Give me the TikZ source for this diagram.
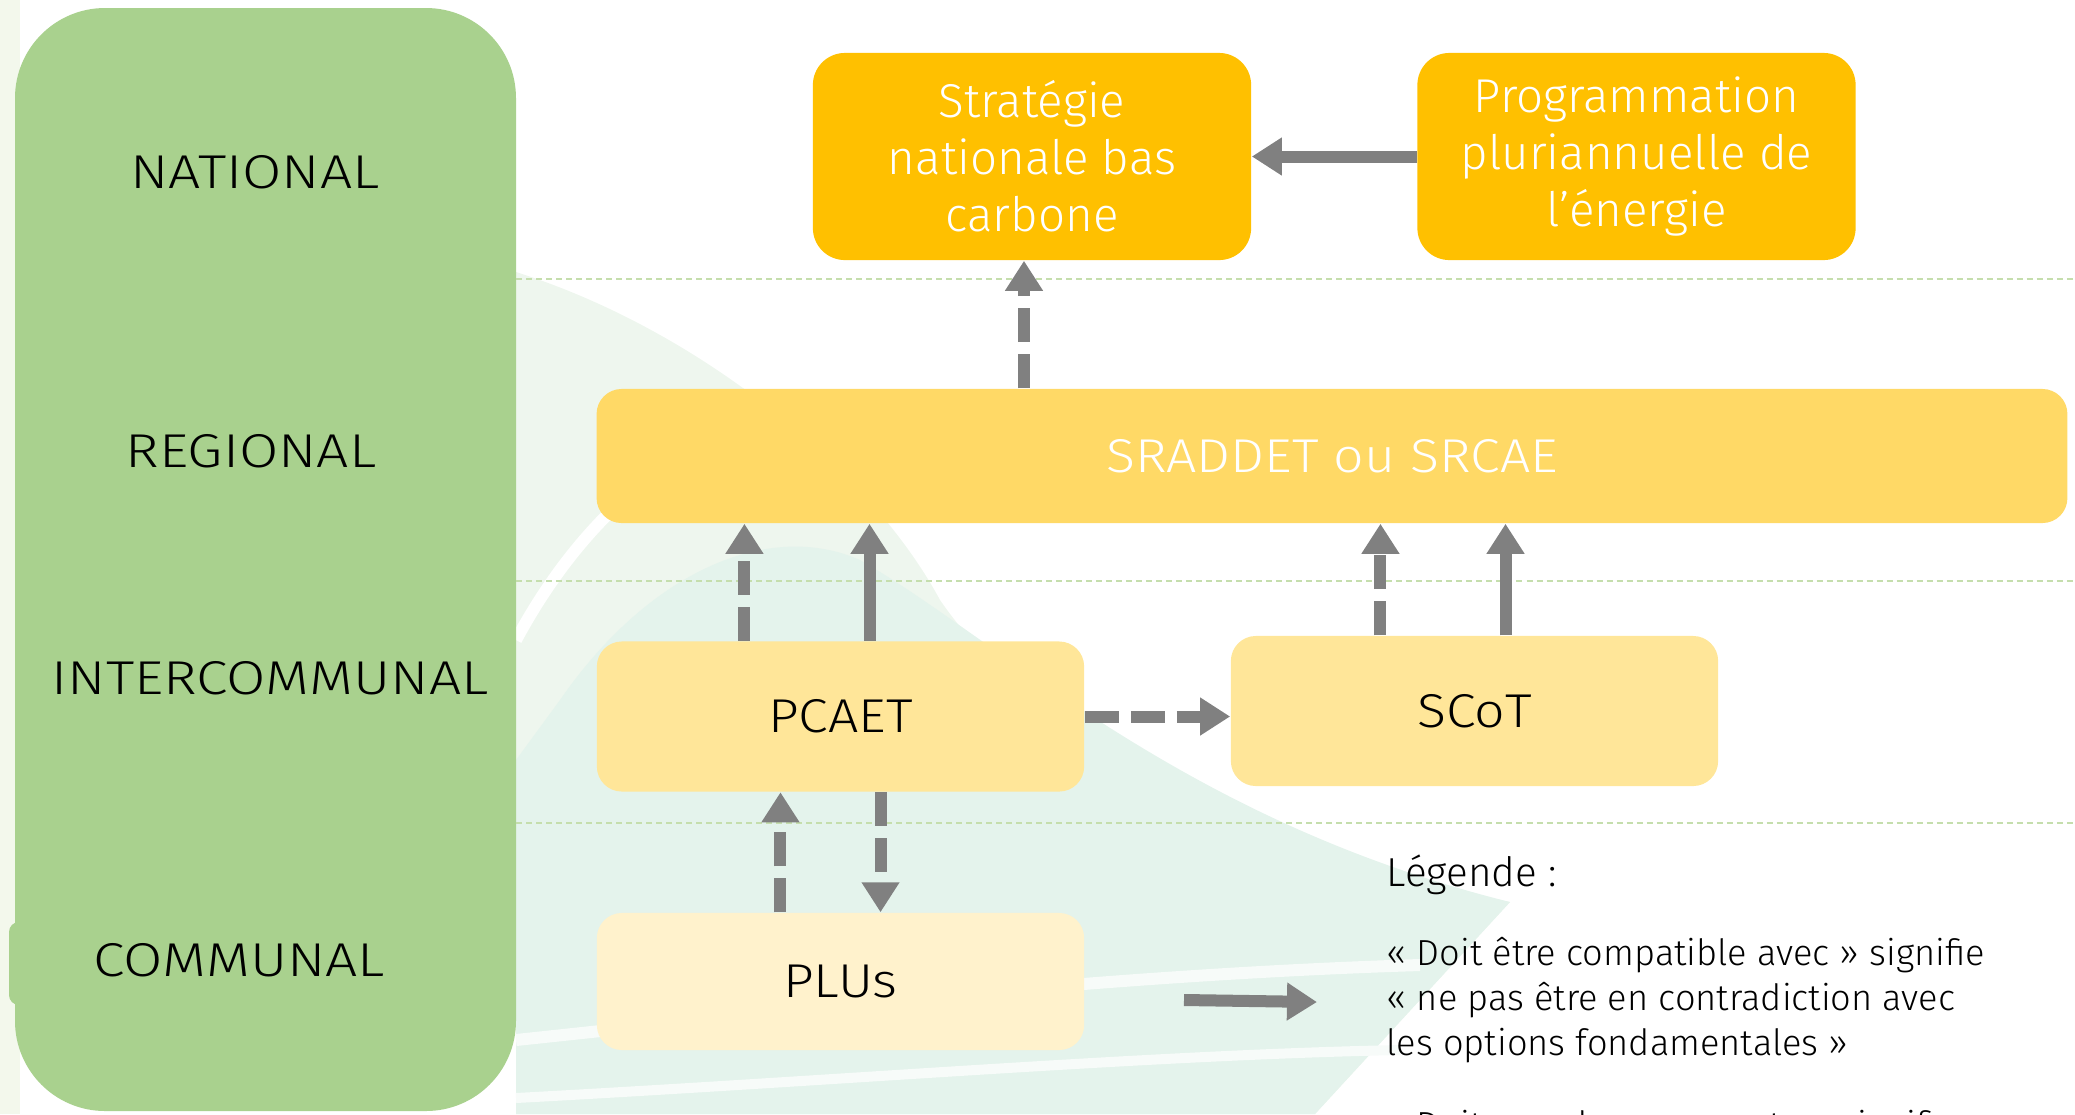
\documentclass[tikz,border=0pt]{standalone}
\usepackage{fontspec}
\setmainfont{Fira Sans Light}
\newfontfamily\levelfont{Fira Sans Light}[FakeStretch=1.2]
\newfontfamily\capsfont{Fira Sans Light}[FakeStretch=1.13]
\usetikzlibrary{arrows.meta}

\definecolor{levelgreen}{HTML}{A9D18E}
\definecolor{natgold}{HTML}{FFC000}
\definecolor{reggold}{HTML}{FFD966}
\definecolor{intergold}{HTML}{FFE699}
\definecolor{comgold}{HTML}{FFF2CC}
\definecolor{arrowgray}{HTML}{808080}
\definecolor{sepgreen}{HTML}{C5DEAD}
\definecolor{bgcream}{HTML}{F3F8EC}
\definecolor{bgleaf}{HTML}{EEF6EE}
\definecolor{bgmint}{HTML}{E4F3EC}

\tikzset{
  levellabel/.style={text=black, font=\levelfont\fontsize{13.5}{16}\selectfont},
  box/.style={rounded corners=0.25cm, inner sep=0pt, align=center, font=\fontsize{13.5}{16.2}\selectfont},
  capsbox/.style={font=\capsfont\fontsize{13.5}{16.2}\selectfont},
  natbox/.style={box, fill=natgold, text=white, minimum width=4.38cm, minimum height=2.07cm, rounded corners=0.32cm},
  regbox/.style={box, capsbox, fill=reggold, text=white, minimum width=14.7cm, minimum height=1.34cm},
  interbox/.style={box, capsbox, fill=intergold, text=black, minimum width=4.87cm, minimum height=1.5cm},
  combox/.style={box, capsbox, fill=comgold, text=black, minimum width=4.87cm, minimum height=1.37cm},
  sepline/.style={draw=sepgreen, line width=0.02cm, dash pattern=on 0.06cm off 0.04cm},
  solidarrow/.style={draw=arrowgray, line width=0.12cm, -{Triangle[length=0.3cm,width=0.36cm]}},
  dasharrow/.style={solidarrow, dash pattern=on 0.34cm off 0.12cm},
  legendtext/.style={anchor=west, align=left, inner sep=0pt, font=\fontsize{10.3}{12.8}\selectfont}
}

\begin{document}
\begin{tikzpicture}[x=0.01cm, y=-0.01cm]
  %%%%% START %%%%%
  \useasboundingbox (0,0) rectangle (2075,1114);
  \clip (0,0) rectangle (2075,1114);

  % background leaves
  \fill[bgcream] (0,0) rectangle (20,1114);
  \fill[bgleaf] (516,272) .. controls (700,330) and (870,470) .. (940,600)
    .. controls (1050,760) and (1300,860) .. (1510,902) -- (1315,1114) -- (516,1114) -- cycle;
  \fill[bgmint] (560,700) .. controls (650,570) and (770,520) .. (860,560)
    .. controls (1000,640) and (1180,820) .. (1510,902) -- (1315,1114) -- (516,1114) -- (516,760) -- cycle;
  \draw[white, line width=0.12cm] (516,640) .. controls (570,540) and (640,470) .. (740,420);
  \draw[white!70!bgmint, line width=0.12cm] (516,1040) .. controls (800,1010) and (1100,975) .. (1420,965);
  \draw[white!70!bgmint, line width=0.1cm] (516,1098) .. controls (850,1080) and (1150,1055) .. (1400,1050);

  % levels
  \fill[levelgreen, rounded corners=0.9cm] (15,8) rectangle (516,1111);
  \fill[levelgreen, rounded corners=0.1cm] (9,922) rectangle (40,1005);
  \node[levellabel] (national) at (255,172) {NATIONAL};
  \node[levellabel] (regional) at (251,451) {REGIONAL};
  \node[levellabel] (intercom) at (270,678) {INTERCOMMUNAL};
  \node[levellabel] (communal) at (239,960) {COMMUNAL};

  \draw[sepline] (516,279) -- (2075,279);
  \draw[sepline] (516,581) -- (2075,581);
  \draw[sepline] (516,823) -- (2075,823);

  % plans
  \node[natbox] (snbc) at (1032,156.5) {Stratégie\\nationale bas\\carbone};
  \node[natbox] (ppe) at (1636.5,156.5) {Programmation\\pluriannuelle de\\l’énergie};
  \node[regbox] (sraddet) at (1332,456) {SRADDET ou SRCAE};
  \node[interbox] (pcaet) at (840.5,716.5) {PCAET};
  \node[interbox] (scot) at (1474.5,711) {SCoT};
  \node[combox] (plu) at (840.5,981.5) {PLUs};

  % links
  \draw[solidarrow] (ppe.west) -- (snbc.east);
  \draw[dasharrow] ([xshift=-0.08cm]snbc.south |- sraddet.north) -- ([xshift=-0.08cm]snbc.south);
  \draw[dasharrow] ([xshift=-0.96cm]pcaet.north) -- ([xshift=-0.96cm]pcaet.north |- sraddet.south);
  \draw[solidarrow] ([xshift=0.29cm]pcaet.north) -- ([xshift=0.29cm]pcaet.north |- sraddet.south);
  \draw[dasharrow] ([xshift=-0.94cm]scot.north) -- ([xshift=-0.94cm]scot.north |- sraddet.south);
  \draw[solidarrow] ([xshift=0.31cm]scot.north) -- ([xshift=0.31cm]scot.north |- sraddet.south);
  \draw[dasharrow] (pcaet.east) -- (pcaet.east -| scot.west);
  \draw[dasharrow] ([xshift=-0.6cm]plu.north) -- ([xshift=-0.6cm]plu.north |- pcaet.south);
  \draw[dasharrow] ([xshift=0.4cm]pcaet.south) -- ([xshift=0.4cm]pcaet.south |- plu.north);

  % legend
  \node[legendtext, font=\fontsize{11.5}{13.5}\selectfont] (legtitle) at (1386,875) {Légende :};
  \coordinate (legfrom) at (1184,1000);
  \coordinate (legto) at (1317,1002);
  \draw[solidarrow] (legfrom) -- (legto);
  \node[legendtext] (legcompat) at (1386,1000) {« Doit être compatible avec » signifie\\« ne pas être en contradiction avec\\les options fondamentales »};
  \node[legendtext] (legcompte) at (1386,1128) {« Doit prendre en compte » signifie};
  %%%%% END %%%%%
\end{tikzpicture}
\end{document}
